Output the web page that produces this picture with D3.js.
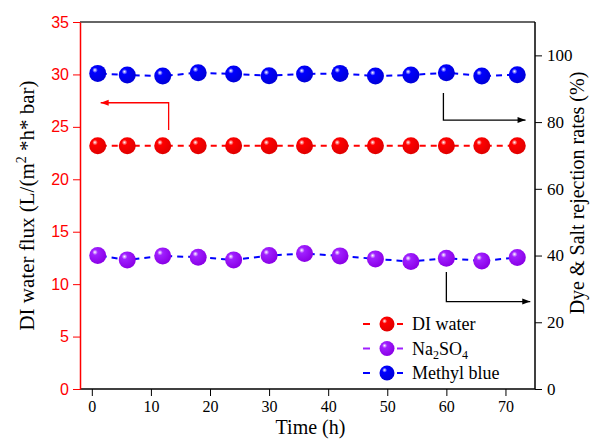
<!DOCTYPE html>
<html>
<head>
<meta charset="utf-8">
<script src="https://cdn.jsdelivr.net/npm/d3@7"></script>
<style>
  body { margin: 0; background: #fff; }
  svg { display: block; }
</style>
</head>
<body>
<script>
// time points (h)
const times = [1, 6, 12, 18, 24, 30, 36, 42, 48, 54, 60, 66, 72];
// DI water flux, left axis
const fluxDI = [23.2, 23.2, 23.2, 23.2, 23.2, 23.2, 23.2, 23.2, 23.2, 23.2, 23.2, 23.2, 23.2];
// rejection rates (%), right axis
const rejNa2SO4 = [40.0, 38.7, 39.9, 39.5, 38.7, 40.0, 40.6, 39.9, 39.0, 38.2, 39.2, 38.4, 39.4];
const rejMethylBlue = [94.6, 94.1, 93.8, 94.8, 94.4, 93.9, 94.4, 94.6, 93.8, 94.1, 94.8, 93.8, 94.2];

const xTicks = [0, 10, 20, 30, 40, 50, 60, 70];
const yLeftTicks = [0, 5, 10, 15, 20, 25, 30, 35];
const yRightTicks = [0, 20, 40, 60, 80, 100];

// arrows: [x, y] in data units, axis says which y scale
const arrows = [
  { axis: "left", color: "#ff0000", pts: [[13, 24.7], [13, 27.3], [1.5, 27.3]] },
  { axis: "right", color: "#000", pts: [[59.5, 88.7], [59.5, 80.6], [73.4, 80.6]] },
  { axis: "right", color: "#000", pts: [[60, 35.1], [60, 26.2], [74.2, 26.2]] }
];

const w = 596;
const h = 444;
const pLeft = 80, pRight = 535, pTop = 22, pBottom = 389;

const svg = d3.select("body").append("svg").attr("width", w).attr("height", h);

const xScale = d3.scaleLinear().domain([-2, 75]).range([pLeft, pRight]);
const yLeft = d3.scaleLinear().domain([0, 35]).range([pBottom, pTop]);
const yRight = d3.scaleLinear().domain([0, 110]).range([pBottom, pTop]);

// sphere gradients
const defs = svg.append("defs");
const sphere = (id, c, dark) => {
  const g = defs.append("radialGradient").attr("id", id)
    .attr("cx", "0.38").attr("cy", "0.35").attr("r", "0.65")
    .attr("fx", "0.33").attr("fy", "0.3");
  g.append("stop").attr("offset", "0%").attr("stop-color", "#fff");
  g.append("stop").attr("offset", "25%").attr("stop-color", c);
  g.append("stop").attr("offset", "100%").attr("stop-color", dark);
};
sphere("gRed", "#ff0000", "#e00000");
sphere("gPurple", "#a020ff", "#8a00e6");
sphere("gBlue", "#0000ff", "#0000d8");

const series = [
  { name: "DI water", vals: fluxDI, y: yLeft, fill: "url(#gRed)", line: "#ff0000" },
  { name: "Na2SO4", vals: rejNa2SO4, y: yRight, fill: "url(#gPurple)", line: "#0000ff" },
  { name: "Methyl blue", vals: rejMethylBlue, y: yRight, fill: "url(#gBlue)", line: "#0000ff" }
];

// frame top line
svg.append("line")
  .attr("x1", pLeft).attr("x2", pRight).attr("y1", pTop).attr("y2", pTop)
  .attr("stroke", "#333").attr("stroke-width", 1.5);

// x axis
const xAxisG = svg.append("g").attr("transform", `translate(0,${pBottom})`);
xAxisG.call(d3.axisBottom(xScale).tickValues(d3.range(5, 75, 10)).tickSize(4).tickFormat(""));
xAxisG.call(d3.axisBottom(xScale).tickValues(xTicks).tickSize(7).tickSizeOuter(0).tickPadding(5));
xAxisG.select(".domain").attr("d", `M${pLeft},0H${pRight}`).attr("stroke-width", 1.5);
xAxisG.selectAll("text")
  .attr("font-family", "Liberation Serif").attr("font-size", 16).attr("fill", "#000");

// left axis (red)
const yLG = svg.append("g").attr("transform", `translate(${pLeft},0)`);
yLG.call(d3.axisLeft(yLeft).tickValues(d3.range(2.5, 35, 5)).tickSize(4).tickFormat(""));
yLG.call(d3.axisLeft(yLeft).tickValues(yLeftTicks).tickSize(7).tickSizeOuter(0).tickPadding(4));
yLG.selectAll("line, path").attr("stroke", "#ff0000");
yLG.select(".domain").attr("stroke-width", 1.5);
yLG.selectAll("text")
  .attr("font-family", "Liberation Sans").attr("font-size", 16).attr("fill", "#ff0000");

// right axis
const yRG = svg.append("g").attr("transform", `translate(${pRight},0)`);
yRG.call(d3.axisRight(yRight).tickValues(d3.range(10, 110, 20)).tickSize(4).tickFormat(""));
yRG.call(d3.axisRight(yRight).tickValues(yRightTicks).tickSize(7).tickSizeOuter(0).tickPadding(5));
yRG.select(".domain").attr("d", `M0,${pBottom}V${pTop}`).attr("stroke-width", 1.5);
yRG.selectAll("text")
  .attr("font-family", "Liberation Serif").attr("font-size", 17).attr("fill", "#000");

// axis titles
svg.append("text")
  .attr("x", (pLeft + pRight) / 2 + 3).attr("y", 434)
  .attr("text-anchor", "middle")
  .attr("font-family", "Liberation Serif").attr("font-size", 20)
  .text("Time (h)");

const lt = svg.append("text")
  .attr("transform", `translate(34,${(pTop + pBottom) / 2}) rotate(-90)`)
  .attr("text-anchor", "middle")
  .attr("font-family", "Liberation Serif").attr("font-size", 21);
lt.append("tspan").text("DI water flux (L/(m");
lt.append("tspan").attr("font-size", 14).attr("dy", -8).text("2");
lt.append("tspan").attr("dy", 8).text(" *h* bar)");

svg.append("text")
  .attr("transform", `translate(584,193) rotate(-90)`)
  .attr("text-anchor", "middle")
  .attr("font-family", "Liberation Serif").attr("font-size", 20)
  .text("Dye & Salt rejection rates (%)");

// arrows
arrows.forEach((a) => {
  const ys = a.axis === "left" ? yLeft : yRight;
  const pts = a.pts.map((p) => [xScale(p[0]), ys(p[1])]);
  svg.append("path")
    .attr("d", d3.line()(pts))
    .attr("fill", "none").attr("stroke", a.color).attr("stroke-width", 1.3);
  const [tx, ty] = pts[pts.length - 1];
  const dir = pts[pts.length - 1][0] > pts[pts.length - 2][0] ? 1 : -1;
  svg.append("path")
    .attr("d", `M${tx},${ty}L${tx - dir * 8},${ty - 3}L${tx - dir * 8},${ty + 3}Z`)
    .attr("fill", a.color);
});

// lines + markers
series.forEach((s) => {
  const pts = times.map((t, i) => [t, s.vals[i]]);
  svg.append("path")
    .datum(pts)
    .attr("d", d3.line().x((d) => xScale(d[0])).y((d) => s.y(d[1])))
    .attr("fill", "none")
    .attr("stroke", s.line)
    .attr("stroke-width", 2)
    .attr("stroke-dasharray", "6,5")
    .attr("stroke-dashoffset", -3);
  svg.append("g")
    .selectAll("circle")
    .data(pts)
    .enter()
    .append("circle")
    .attr("cx", (d) => xScale(d[0]))
    .attr("cy", (d) => s.y(d[1]))
    .attr("r", 8.5)
    .attr("fill", s.fill);
});

// legend
const legendColors = ["#ff0000", "#a020ff", "#0000ff"];
const legend = svg.append("g").attr("transform", "translate(363,324)");
series.forEach((s, i) => {
  const g = legend.append("g").attr("transform", `translate(0,${i * 24.5})`);
  g.append("line").attr("x1", 0).attr("x2", 7).attr("stroke", legendColors[i]).attr("stroke-width", 2);
  g.append("line").attr("x1", 34).attr("x2", 40).attr("stroke", legendColors[i]).attr("stroke-width", 2);
  g.append("circle").attr("cx", 24).attr("r", 7.5).attr("fill", s.fill);
  const t = g.append("text").attr("x", 49).attr("y", 6)
    .attr("font-family", "Liberation Serif").attr("font-size", 18);
  if (s.name === "Na2SO4") {
    t.append("tspan").text("Na");
    t.append("tspan").attr("font-size", 12).attr("dy", 4).text("2");
    t.append("tspan").attr("dy", -4).text("SO");
    t.append("tspan").attr("font-size", 12).attr("dy", 4).text("4");
  } else {
    t.text(s.name);
  }
});
</script>
</body>
</html>
